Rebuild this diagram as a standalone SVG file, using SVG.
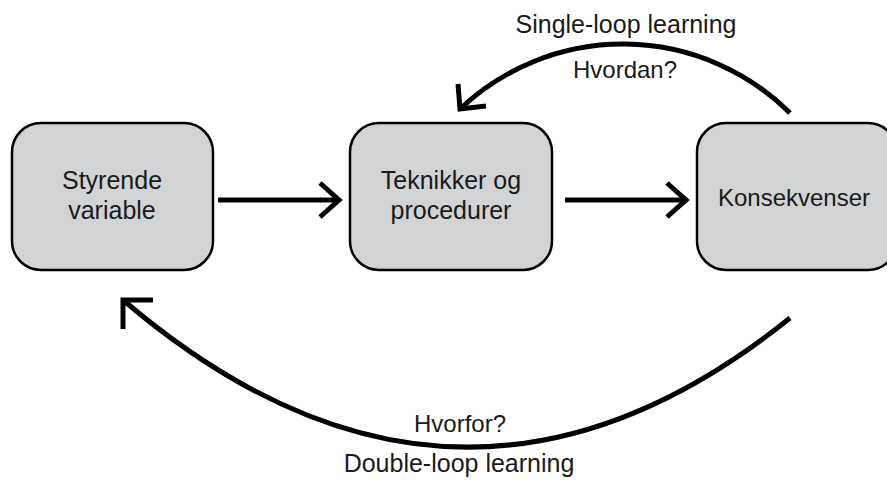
<svg xmlns="http://www.w3.org/2000/svg" width="887" height="483" viewBox="0 0 887 483">
  <style>
    .box { fill: #d1d3d4; stroke: #000; stroke-width: 2.5; }
    .lbl { font-family: "Liberation Sans", Arial, sans-serif; font-size: 24px; fill: #1a1a1a; text-anchor: middle; }
    .big { font-size: 25px; }
    .line { fill: none; stroke: #000; stroke-width: 5; }
    .head { fill: none; stroke: #000; stroke-width: 5; stroke-linejoin: miter; stroke-miterlimit: 10; }
  </style>
  <rect width="887" height="483" fill="#fff"/>
  <g id="node-styrende">
    <rect class="box" x="12" y="123" width="201" height="147" rx="29" ry="29"/>
    <text class="lbl big" x="112" y="189">Styrende</text>
    <text class="lbl big" x="112" y="219">variable</text>
  </g>
  <g id="node-teknikker">
    <rect class="box" x="350" y="123" width="202" height="147" rx="29" ry="29"/>
    <text class="lbl big" x="451" y="189">Teknikker og</text>
    <text class="lbl big" x="451" y="219">procedurer</text>
  </g>
  <g id="node-konsekvenser">
    <rect class="box" x="697" y="123" width="200" height="147" rx="29" ry="29"/>
    <text class="lbl" x="794" y="206">Konsekvenser</text>
  </g>
  <g id="connectors">
    <line class="line" x1="218" y1="200" x2="338" y2="200"/>
    <polyline class="head" points="320,183 339,200 320,217"/>
    <line class="line" x1="565" y1="200" x2="685" y2="200"/>
    <polyline class="head" points="667,183 686,200 667,217"/>
    <path class="line" d="M790,113 A237,237 0 0 0 460,109"/>
    <polyline class="head" points="458,84 460,109 486,106"/>
    <path class="line" d="M790,318 Q457.5,585 123,300"/>
    <polyline class="head" points="153,300 123,300 123,329"/>
  </g>
  <g id="labels">
    <text class="lbl big" x="626" y="33">Single-loop learning</text>
    <text class="lbl" x="625" y="78">Hvordan?</text>
    <text class="lbl" x="460" y="432">Hvorfor?</text>
    <text class="lbl big" x="459" y="472">Double-loop learning</text>
  </g>
</svg>
